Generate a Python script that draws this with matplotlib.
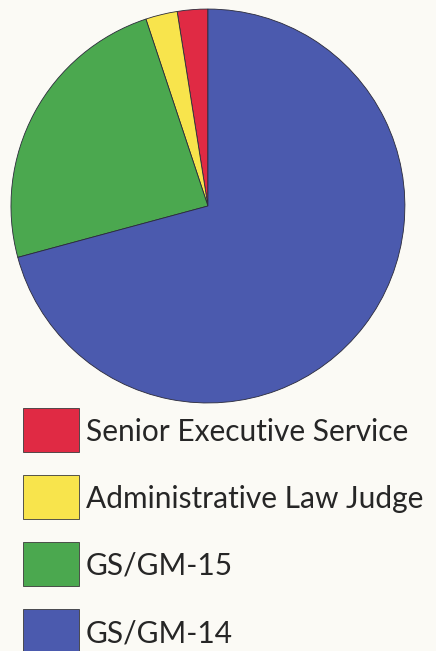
import matplotlib
matplotlib.use("Agg")
import matplotlib.pyplot as plt
from matplotlib.patches import Rectangle

# share of each grade (percent)
labels = ['Senior Executive Service', 'Administrative Law Judge', 'GS/GM-15', 'GS/GM-14']
values = [2.5, 2.6, 24.1, 70.8]
colors = ['#e02a44', '#f8e44c', '#4ba84f', '#4b5aae']

bg = '#fbfaf5'
fig = plt.figure(figsize=(4.36, 6.51), dpi=100, facecolor=bg)

# pie
ax = fig.add_axes([0.0229, 0.3794, 0.908, 0.6083])
ax.pie(values, colors=colors, startangle=90, counterclock=True,
       wedgeprops=dict(edgecolor='#2a2a3a', linewidth=0.6))
ax.set_xlim(-1.005, 1.005)
ax.set_ylim(-1.005, 1.005)
ax.set_aspect('equal')
ax.axis('off')

# legend drawn in pixel coordinates
lax = fig.add_axes([0, 0, 1, 1], facecolor='none')
lax.set_xlim(0, 436)
lax.set_ylim(651, 0)
lax.axis('off')
for i, (lab, col) in enumerate(zip(labels, colors)):
    top = 408 + i * 67
    lax.add_patch(Rectangle((23, top), 56, 44, facecolor=col,
                            edgecolor='#3a3a3a', linewidth=0.6))
    lax.text(86, top + 33, lab, fontsize=21.5, family='Lato',
             color='#262626', va='baseline', ha='left')

fig.savefig('out.png', dpi=100, facecolor=bg)
